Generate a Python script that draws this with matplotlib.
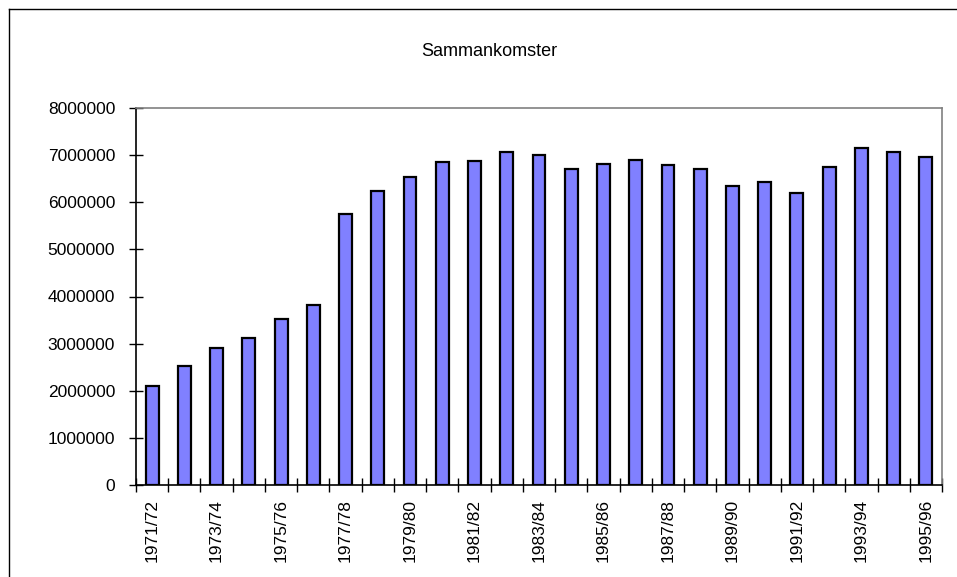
import matplotlib.pyplot as plt
from matplotlib.lines import Line2D
import numpy as np

plt.rcParams['font.family'] = ['Liberation Sans', 'DejaVu Sans']

# sasongar och antal sammankomster
seasons = ["1971/72", "1972/73", "1973/74", "1974/75", "1975/76", "1976/77",
           "1977/78", "1978/79", "1979/80", "1980/81", "1981/82", "1982/83",
           "1983/84", "1984/85", "1985/86", "1986/87", "1987/88", "1988/89",
           "1989/90", "1990/91", "1991/92", "1992/93", "1993/94", "1994/95",
           "1995/96"]
values = [2100000, 2530000, 2910000, 3120000, 3520000, 3830000,
          5750000, 6240000, 6530000, 6860000, 6880000, 7060000,
          7000000, 6710000, 6810000, 6900000, 6780000, 6710000,
          6340000, 6430000, 6190000, 6750000, 7160000, 7060000,
          6970000]
yticks = [0, 1000000, 2000000, 3000000, 4000000, 5000000, 6000000, 7000000, 8000000]

fig = plt.figure(figsize=(9.57, 5.77), dpi=100)
ax = fig.add_axes([136/957, 1 - 485/577, (942-136)/957, (485-108)/577])

x = np.arange(len(seasons))
ax.bar(x, values, width=0.4, color='#8080FF', edgecolor='black', linewidth=1.6, zorder=3)

ax.set_xlim(-0.5, len(seasons) - 0.5)
ax.set_ylim(0, 8000000)
ax.set_yticks(yticks)
ax.set_yticklabels([str(v) for v in yticks], fontsize=12.5)
ax.set_xticks(x[::2])
ax.set_xticklabels(seasons[::2], rotation=90, fontsize=12.5)
ax.tick_params(axis='x', length=0, pad=10)
ax.tick_params(axis='y', direction='inout', length=10, width=1, pad=10)

# tickmarks mellan kategorierna
ax.set_xticks(np.arange(len(seasons) + 1) - 0.5, minor=True)
ax.tick_params(axis='x', which='minor', direction='inout', length=10, width=1)

for s in ['top', 'right']:
    ax.spines[s].set_color('#808080')
    ax.spines[s].set_linewidth(1.2)
for s in ['left', 'bottom']:
    ax.spines[s].set_color('black')
    ax.spines[s].set_linewidth(1.2)

fig.text(489/957, 1 - 51/577, "Sammankomster", ha='center', va='center', fontsize=13)

# ram runt diagrammet
fig.add_artist(Line2D([9/957, 9/957], [0, 1 - 9/577], color='black', lw=1))
fig.add_artist(Line2D([9/957, 1], [1 - 9/577, 1 - 9/577], color='black', lw=1))

fig.savefig('out.png', dpi=100)
